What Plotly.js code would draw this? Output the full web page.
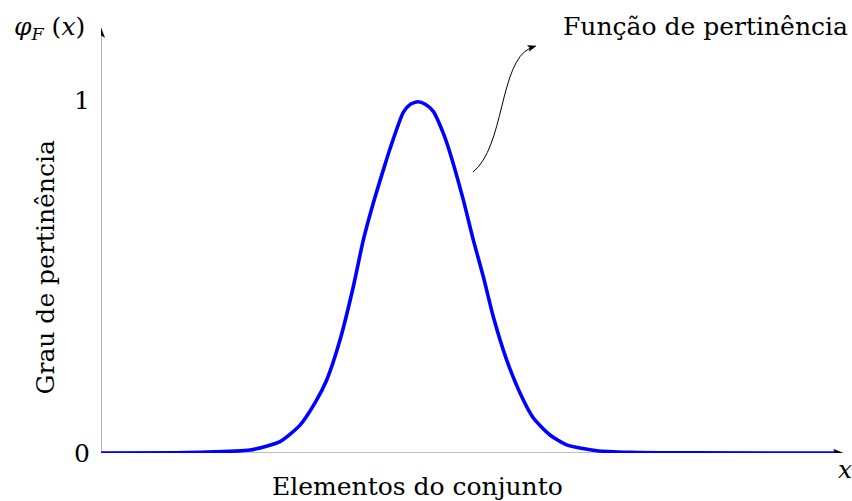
<!DOCTYPE html>
<html>
<head>
<meta charset="utf-8">
<script src="https://cdn.plot.ly/plotly-3.0.1.min.js"></script>
<style>html,body{margin:0;padding:0;background:#fff;}#chart{width:852px;height:501px;}</style>
</head>
<body>
<div id="chart"></div>
<script>
// Membership function samples (element position, membership degree)
const xValues = [0, 1.0, 1.334, 2.008, 2.412, 2.682, 2.884, 3.042, 3.221, 3.400, 3.535, 3.670, 3.805, 3.895, 4.074, 4.17, 4.272, 4.37, 4.478, 4.613, 4.704, 4.883, 5.018, 5.152, 5.287, 5.468, 5.647, 5.827, 6.051, 6.276, 6.681, 7.129, 8.0, 9.9];
const yValues = [0, 0.0005, 0.002, 0.0085, 0.032, 0.079, 0.142, 0.207, 0.320, 0.471, 0.603, 0.708, 0.802, 0.862, 0.965, 0.988, 0.995, 0.988, 0.968, 0.906, 0.850, 0.717, 0.603, 0.500, 0.386, 0.263, 0.170, 0.099, 0.051, 0.023, 0.0065, 0.002, 0.0003, 0];
const yTickVals = [0, 1];
const yTickText = ['0', '1'];
const xLabel = 'Elementos do conjunto';
const yLabel = 'Grau de pertinência';
const curveLabel = 'Função de pertinência';

const serif = 'DejaVu Serif, Liberation Serif, serif';
const xMax = 10, yMax = 425 / 353;
const fnt = {family: serif, size: 25, color: '#000'};

const trace = {
  x: xValues, y: yValues, type: 'scatter', mode: 'lines',
  line: {color: '#0000ff', width: 3.6, shape: 'spline', smoothing: 0.6},
  hoverinfo: 'skip', cliponaxis: false
};

const layout = {
  width: 852, height: 501,
  margin: {l: 101, r: 9, t: 28, b: 48, pad: 0},
  paper_bgcolor: '#fff', plot_bgcolor: '#fff',
  showlegend: false,
  xaxis: {range: [0, xMax], showgrid: false, zeroline: false, showline: false, showticklabels: false, ticks: ''},
  yaxis: {range: [0, yMax], showgrid: false, zeroline: false, showline: false,
          tickvals: yTickVals, ticktext: yTickText, ticks: '', ticklabelstandoff: 10,
          tickfont: fnt},
  shapes: [
    {type: 'line', xref: 'x', yref: 'y', x0: 0, y0: 0, x1: 9.9, y1: 0, line: {color: '#7f7f7f', width: 1.2}, layer: 'below'},
    {type: 'line', xref: 'x', yref: 'y', x0: 0, y0: 0, x1: 0, y1: 1.185, line: {color: '#7f7f7f', width: 1.2}, layer: 'below'},
    {type: 'path', xref: 'x', yref: 'y',
     path: 'M 5.013,0.796 C 5.44,0.867 5.37,1.108 5.784,1.147',
     line: {color: '#000', width: 1}},
    // arrowheads
    {type: 'path', xref: 'x', yref: 'y', path: 'M 10,0 L 9.875,0.0105 L 9.895,0 L 9.875,-0.0105 Z',
     fillcolor: '#000', line: {color: '#000', width: 0.5}},
    {type: 'path', xref: 'x', yref: 'y', path: 'M 0,' + yMax + ' L -0.048,' + (yMax - 0.0265) + ' L 0,' + (yMax - 0.0205) + ' L 0.048,' + (yMax - 0.0265) + ' Z',
     fillcolor: '#000', line: {color: '#000', width: 0.5}},
    {type: 'path', xref: 'x', yref: 'y', path: 'M 5.863,1.153 L 5.771,1.1382 L 5.784,1.1473 L 5.748,1.1544 Z',
     fillcolor: '#000', line: {color: '#000', width: 0.5}}
  ],
  annotations: [
    {x: 0.5, xref: 'paper', y: 0, yref: 'paper', yshift: -33, xshift: -55, text: xLabel, showarrow: false,
     xanchor: 'center', yanchor: 'middle', font: fnt},
    {x: 0, xref: 'paper', y: 0.5, yref: 'paper', xshift: -56, yshift: -27, text: yLabel, showarrow: false, textangle: -90,
     xanchor: 'center', yanchor: 'middle', font: fnt},
    {x: 0, xref: 'paper', y: 1, yref: 'paper', xshift: -52, yshift: 0, text: '<i>φ</i><sub><i>F</i></sub> (<i>x</i>)', showarrow: false,
     xanchor: 'center', yanchor: 'middle', font: fnt},
    {x: 1, xref: 'paper', y: 0, yref: 'paper', xshift: 2, yshift: -16, text: '<i>x</i>', showarrow: false,
     xanchor: 'center', yanchor: 'middle', font: fnt},
    {x: 1, xref: 'paper', y: 1, yref: 'paper', xanchor: 'right', yanchor: 'middle', xshift: 7, yshift: 2, text: curveLabel, showarrow: false,
     font: fnt}
  ]
};

Plotly.newPlot('chart', [trace], layout, {displayModeBar: false, staticPlot: true});
</script>
</body>
</html>
